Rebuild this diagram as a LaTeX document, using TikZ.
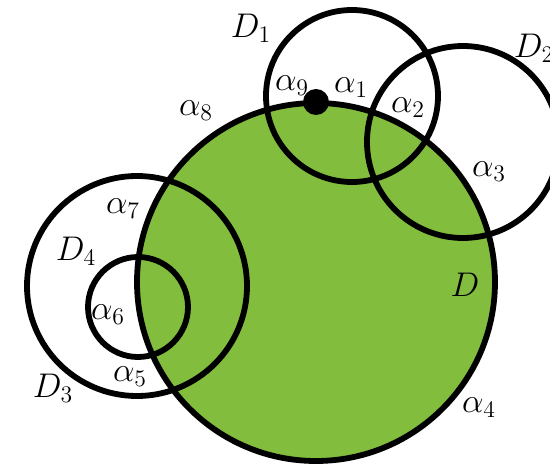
\documentclass[tikz,border=0pt]{standalone}
\usepackage{graphicx}
\definecolor{dgreen}{RGB}{130,189,62}
\newcommand{\lbl}[1]{\scalebox{1.65}{\huge$#1$}}
\begin{document}
\begin{tikzpicture}[x=1pt,y=-1pt,
  ring/.style={draw=black,line width=5.8pt},
  lab/.style={inner sep=0pt}]
\useasboundingbox (0,0) rectangle (550,465);
\clip (0,0) rectangle (550,465);
\coordinate (cD) at (316,282);
\coordinate (cD1) at (352,96);
\coordinate (cD2) at (463,142);
\coordinate (cD3) at (137,286);
\coordinate (cD4) at (138,307);
\fill[dgreen] (cD) circle (179);
\draw[ring] (cD) circle (179);
\draw[ring] (cD1) circle (86);
\draw[ring] (cD2) circle (96);
\draw[ring] (cD3) circle (110);
\draw[ring] (cD4) circle (50);
\fill[black] (316,102) circle (13) node (dot) {};
\node[lab] (lD1) at (251,28) {\lbl{D_1}};
\node[lab] (lD2) at (534,48) {\lbl{D_2}};
\node[lab] (lD3) at (53,388) {\lbl{D_3}};
\node[lab] (lD4) at (76,251) {\lbl{D_4}};
\node[lab] (lD) at (465,285) {\lbl{D}};
\node[lab] (a1) at (351,88) {\lbl{\alpha_1}};
\node[lab] (a2) at (408,108) {\lbl{\alpha_2}};
\node[lab] (a3) at (489,172) {\lbl{\alpha_3}};
\node[lab] (a4) at (479,408) {\lbl{\alpha_4}};
\node[lab] (a5) at (130,377) {\lbl{\alpha_5}};
\node[lab] (a6) at (108,315) {\lbl{\alpha_6}};
\node[lab] (a7) at (123,209) {\lbl{\alpha_7}};
\node[lab] (a8) at (196,111) {\lbl{\alpha_8}};
\node[lab] (a9) at (292,86) {\lbl{\alpha_9}};
\end{tikzpicture}
\end{document}
